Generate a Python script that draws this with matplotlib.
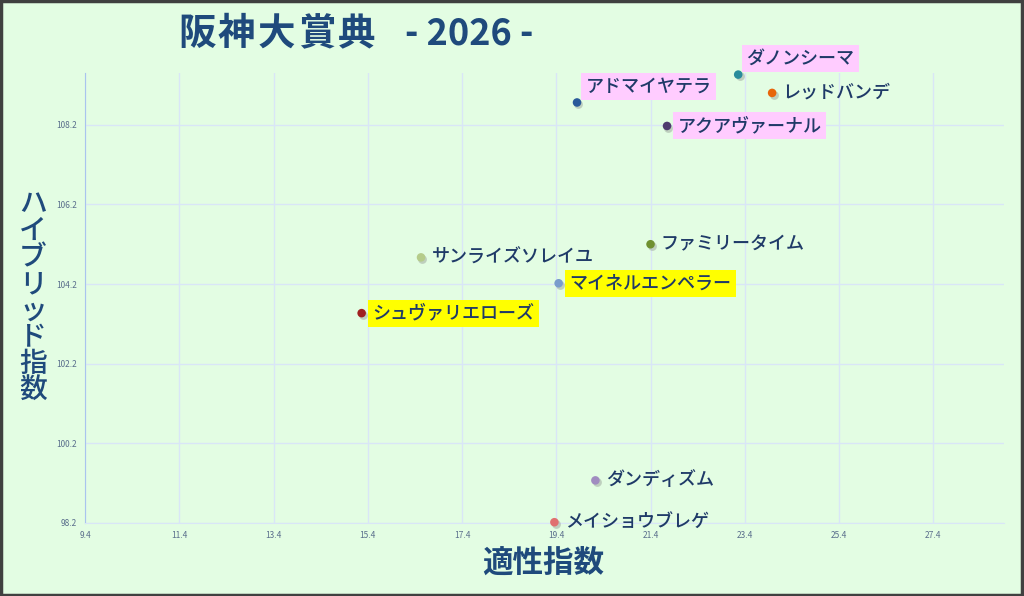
import matplotlib.pyplot as plt
import numpy as np

plt.rcParams['font.family'] = ['Noto Sans CJK JP', 'DejaVu Sans']

# data
horses = ['ダノンシーマ', 'レッドバンデ', 'アドマイヤテラ', 'アクアヴァーナル', 'ファミリータイム',
          'サンライズソレイユ', 'マイネルエンペラー', 'シュヴァリエローズ', 'ダンディズム', 'メイショウブレゲ']
tekisei = [23.26, 23.98, 19.84, 21.75, 21.40, 16.53, 19.45, 15.27, 20.23, 19.36]
hybrid = [109.46, 109.00, 108.76, 108.17, 105.20, 104.87, 104.22, 103.47, 99.27, 98.22]
dot_colors = ['#2a8c9c', '#e8650a', '#2a5a9a', '#4f3a6e', '#6f9030',
              '#b5cc8a', '#7a9ccc', '#a02020', '#a08cc0', '#e07070']
highlight = ['pink', None, 'pink', 'pink', None, None, 'yellow', 'yellow', None, None]
above = [True, False, True, False, False, False, False, False, False, False]

xticks = [9.4, 11.4, 13.4, 15.4, 17.4, 19.4, 21.4, 23.4, 25.4, 27.4]
yticks = [98.2, 100.2, 102.2, 104.2, 106.2, 108.2]

race = '阪神大賞典'
year_part = '- 2026 -'

bg = '#e3fde3'
navy = '#1f3a68'
title_c = '#1f4a7c'
grid_c = '#d9e6f7'

fig = plt.figure(figsize=(10.24, 5.96), dpi=100, facecolor=bg)
ax = fig.add_axes([85 / 1024, 1 - 523 / 596, 919 / 1024, 450 / 596])
ax.set_facecolor(bg)

ax.set_xlim(9.4, 28.9)
ax.set_ylim(98.2, 109.5)
ax.set_xticks(xticks)
ax.set_yticks(yticks)
ax.set_xticklabels([f'{v:.1f}' for v in xticks])
ax.set_yticklabels([f'{v:.1f}' for v in yticks])
ax.tick_params(length=0, labelsize=6, labelcolor='#5a6e8c', pad=6)
ax.grid(True, color=grid_c, linewidth=1)
ax.set_axisbelow(True)
for s in ['top', 'right']:
    ax.spines[s].set_visible(False)
ax.spines['left'].set_color('#a9c4ee')
ax.spines['bottom'].set_color(grid_c)

# dots with a soft shadow
ax.scatter(np.array(tekisei) + 0.03, np.array(hybrid) - 0.04, s=40, color='#9aa39a', alpha=0.5,
           linewidths=0, zorder=3, clip_on=False)
ax.scatter(tekisei, hybrid, s=38, c=dot_colors, linewidths=0, zorder=4, clip_on=False)

box_colors = {'pink': '#ffccff', 'yellow': '#ffff00'}
for name, x, y, hl, up in zip(horses, tekisei, hybrid, highlight, above):
    bbox = None
    if hl:
        bbox = dict(boxstyle='square,pad=0.25', facecolor=box_colors[hl], edgecolor='none')
    if up:
        ax.annotate(name, (x, y), xytext=(6, 5), textcoords='offset points', ha='left', va='bottom',
                    fontsize=13, color=navy, fontweight='medium', bbox=bbox, zorder=5,
                    annotation_clip=False)
    else:
        ax.annotate(name, (x, y), xytext=(7.5, 0), textcoords='offset points', ha='left', va='center',
                    fontsize=13, color=navy, fontweight='medium', bbox=bbox, zorder=5,
                    annotation_clip=False)

# title, spaced out character by character
for i, ch in enumerate(race):
    fig.text((178 + 40 * i) / 1024, 1 - 34 / 596, ch, fontsize=27, fontweight='bold',
             color=title_c, ha='left', va='center')
fig.text(405 / 1024, 1 - 34 / 596, year_part, fontsize=26, fontweight='bold',
         color=title_c, ha='left', va='center')
fig.text(543 / 1024, 1 - 563 / 596, '適性指数', fontsize=22, fontweight='bold',
         color=title_c, ha='center', va='center')
fig.text(33 / 1024, 1 - 297 / 596, '\n'.join('ハイブリッド指数'), fontsize=20, fontweight='medium',
         color=title_c, ha='center', va='center', linespacing=0.9)

# outer frame
fig.patches.append(plt.Rectangle((0.001, 0.002), 0.997, 0.996, transform=fig.transFigure,
                                 fill=False, edgecolor='#404040', linewidth=2.5))

fig.savefig('out.png', dpi=100, facecolor=bg)
